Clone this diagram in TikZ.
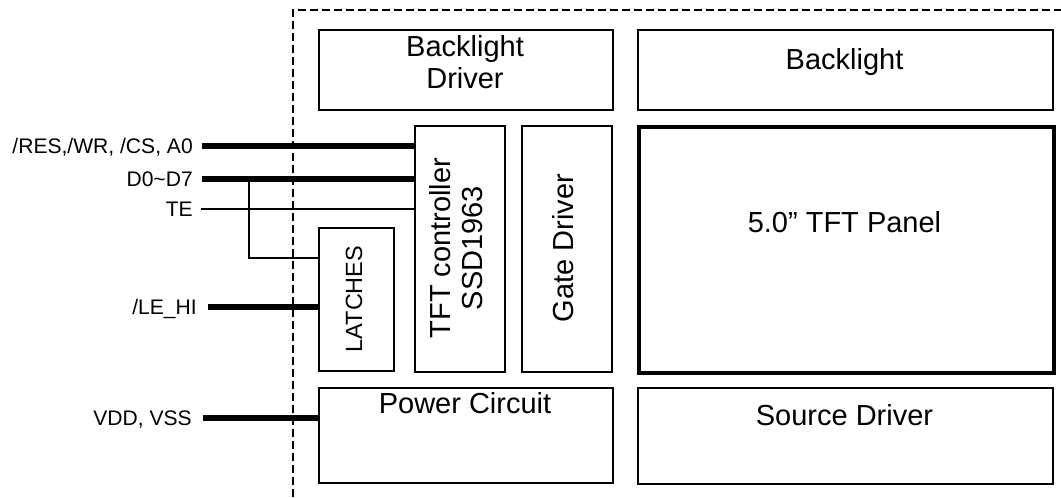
\documentclass[tikz,border=0pt]{standalone}
\usepackage{fontspec}
\setmainfont{Liberation Sans}
\begin{document}
\begin{tikzpicture}[x=0.75pt,y=-0.75pt,
  blk/.style={draw,line width=1.3pt,inner sep=0pt,anchor=north west},
  panelbox/.style={draw,line width=3pt,inner sep=0pt,anchor=north west},
  boxtext/.style={font=\fontsize{21.75}{24}\selectfont,inner sep=0pt,align=center},
  sigtext/.style={font=\fontsize{15.8}{18}\selectfont,inner sep=0pt,anchor=base east},
  bus/.style={line width=4.2pt},
  wire/.style={line width=1.3pt},
  border/.style={line width=1.5pt,dash pattern=on 6pt off 3pt}]
\useasboundingbox (0,0) rectangle (1061,497);
% boundary
\draw[border] (293,497) -- (293,10) -- (1061,10);
% boxes
\node[blk,minimum width=294*0.75pt,minimum height=80*0.75pt] (bld) at (318,29) {};
\node[blk,minimum width=415*0.75pt,minimum height=80*0.75pt] (bl) at (637,29) {};
\node[panelbox,minimum width=415*0.75pt,minimum height=246*0.75pt] (panel) at (637,125) {};
\node[blk,minimum width=415*0.75pt,minimum height=96*0.75pt] (sd) at (637,387) {};
\node[blk,minimum width=294*0.75pt,minimum height=95*0.75pt] (pc) at (318,387) {};
\node[blk,minimum width=90*0.75pt,minimum height=246*0.75pt] (tft) at (414,125) {};
\node[blk,minimum width=90*0.75pt,minimum height=246*0.75pt] (gd) at (521,125) {};
\node[blk,minimum width=75*0.75pt,minimum height=143*0.75pt] (lat) at (318,227) {};
% box texts
\node[boxtext,anchor=base] (tbld1) at (465,56) {Backlight};
\node[boxtext,anchor=base] (tbld2) at (465,88) {Driver};
\node[boxtext,anchor=base] (tbl) at (844.5,69) {Backlight};
\node[boxtext,anchor=base] (tpanel) at (844.5,232) {5.0” TFT Panel};
\node[boxtext,anchor=base] (tsd) at (844.5,425) {Source Driver};
\node[boxtext,anchor=base] (tpc) at (465,413) {Power Circuit};
\node[boxtext,rotate=90] (ttft) at (456,248) {TFT controller\\SSD1963};
\node[boxtext,rotate=90] (tgd) at (563,248) {Gate Driver};
\node[boxtext,rotate=90,font=\fontsize{17.6}{20}\selectfont] (tlat) at (354,299) {LATCHES};
% signal labels
\node[sigtext] (lres) at (193,153.5) {/RES,/WR, /CS, A0};
\node[sigtext] (ld) at (193,186.5) {D0\char`~D7};
\node[sigtext] (lte) at (193,216) {TE};
\node[sigtext] (lle) at (197,314.5) {/LE\_HI};
\node[sigtext] (lvdd) at (192,425.5) {VDD, VSS};
% signal start points
\coordinate (sres) at (202,146);
\coordinate (sd07) at (202,179);
\coordinate (ste) at (201,209);
\coordinate (sle) at (208,307);
\coordinate (svdd) at (203,418);
\coordinate (br) at (249,179);
\coordinate (brd) at (249,258);
% connectors
\draw[bus] (sres) -- (sres -| tft.west);
\draw[bus] (sd07) -- (sd07 -| tft.west);
\draw[wire] (ste) -- (ste -| tft.west);
\draw[wire] (br) -- (brd) -- (brd -| lat.west);
\draw[bus] (sle) -- (sle -| lat.west);
\draw[bus] (svdd) -- (svdd -| pc.west);
\end{tikzpicture}
\end{document}
